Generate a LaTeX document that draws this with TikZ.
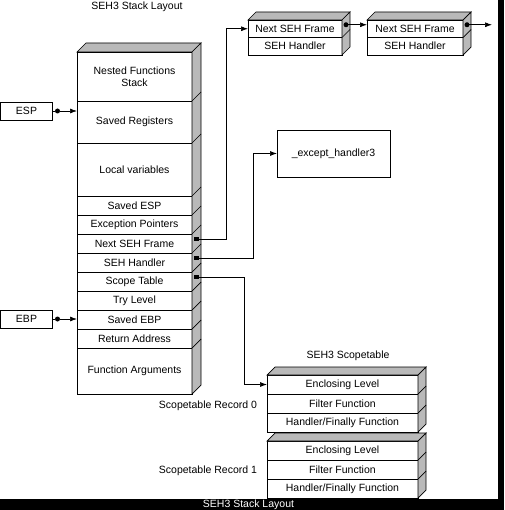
\documentclass[tikz,border=0pt]{standalone}
\usepackage{fontspec}
\setmainfont{Liberation Sans}
\usetikzlibrary{arrows.meta,positioning,calc}

\begin{document}
\begin{tikzpicture}[
    x=1pt, y=-1pt,
    font=\fontsize{10.5}{12}\selectfont,
    row/.style={draw, fill=white, line width=0.7pt, inner sep=0pt, outer sep=0pt, align=center},
    stackrow/.style={row, minimum width=115pt, minimum height=19pt},
    framerow/.style={row, minimum height=17.5pt},
    tablerow/.style={row, minimum width=151pt, minimum height=19pt},
    reg/.style={row, minimum width=52pt, minimum height=18pt},
    side/.style={draw, line width=0.7pt, fill=gray!55},
    sqmark/.style={fill=black, minimum size=4.5pt, inner sep=0pt},
    dotmark/.style={circle, fill=black, minimum size=5pt, inner sep=0pt},
    link/.style={-{Latex[length=7pt,width=5pt]}, line width=0.7pt}
]
\fill[white] (0,0) rectangle (504,510);
\useasboundingbox (0,0) rectangle (504,510);

\node (stacktitle) at (137,7) {SEH3 Stack Layout};
\node[stackrow, minimum height=49pt, anchor=north west] (nested) at (77,52) {Nested Functions\\Stack};
\node[stackrow, minimum height=42pt, below=0pt of nested] (regs) {Saved Registers};
\node[stackrow, minimum height=53pt, below=0pt of regs] (locals) {Local variables};
\node[stackrow, below=0pt of locals] (sesp) {Saved ESP};
\node[stackrow, below=0pt of sesp] (exptr) {Exception Pointers};
\node[stackrow, below=0pt of exptr] (nseh) {Next SEH Frame};
\node[stackrow, below=0pt of nseh] (sehh) {SEH Handler};
\node[stackrow, below=0pt of sehh] (scope) {Scope Table};
\node[stackrow, below=0pt of scope] (try) {Try Level};
\node[stackrow, below=0pt of try] (sebp) {Saved EBP};
\node[stackrow, below=0pt of sebp] (ret) {Return Address};
\node[stackrow, minimum height=46pt, below=0pt of ret] (args) {Function Arguments};

\node[framerow, minimum width=94pt, anchor=north west] (f1next) at (248,20) {Next SEH Frame};
\node[framerow, minimum width=94pt, below=0pt of f1next] (f1hand) {SEH Handler};
\node[framerow, minimum width=96pt, anchor=north west] (f2next) at (367,20) {Next SEH Frame};
\node[framerow, minimum width=96pt, below=0pt of f2next] (f2hand) {SEH Handler};

\node[row, minimum width=113pt, minimum height=47pt] (handler) at (333.5,153.5) {\_except\_handler3};

\node (tabletitle) at (348,356) {SEH3 Scopetable};
\node[tablerow, anchor=north west] (r0enc) at (267,375) {Enclosing Level};
\node[tablerow, below=0pt of r0enc] (r0filt) {Filter Function};
\node[tablerow, below=0pt of r0filt] (r0fin) {Handler/Finally Function};
\node[tablerow, anchor=north west] (r1enc) at (267,441) {Enclosing Level};
\node[tablerow, below=0pt of r1enc] (r1filt) {Filter Function};
\node[tablerow, below=0pt of r1filt] (r1fin) {Handler/Finally Function};
\node (rec0) at (208,406) {Scopetable Record 0};
\node (rec1) at (208,471) {Scopetable Record 1};

\foreach \t/\b/\d in {nested/args/9, f1next/f1hand/8, f2next/f2hand/8, r0enc/r0fin/8, r1enc/r1fin/8} {
  \filldraw[side] (\t.north west) -- ++(\d,-\d) -- ($(\t.north east)+(\d,-\d)$) -- (\t.north east) -- cycle;
  \filldraw[side] (\t.north east) -- ++(\d,-\d) -- ($(\b.south east)+(\d,-\d)$) -- (\b.south east) -- cycle;
}
\foreach \r/\d in {nested/9, regs/9, locals/9, sesp/9, exptr/9, nseh/9, sehh/9, scope/9, try/9, sebp/9, ret/9,
                   f1next/8, f2next/8, r0enc/8, r0filt/8, r1enc/8, r1filt/8}
  \draw[line width=0.7pt] (\r.south east) -- ++(\d,-\d);

\node[reg] (esp) at (26.5,111) {ESP};
\node[reg] (ebp) at (26.5,319) {EBP};
\node[dotmark] (espdot) at ($(esp.east)+(5,0)$) {};
\node[dotmark] (ebpdot) at ($(ebp.east)+(5,0)$) {};
\draw[line width=0.7pt] (esp.east) -- (espdot);
\draw[line width=0.7pt] (ebp.east) -- (ebpdot);
\draw[link] (espdot) -- (espdot -| regs.west);
\draw[link] (ebpdot) -- (ebpdot -| sebp.west);

\node[sqmark] (nsehsq) at ($(nseh.east)+(4.5,-4.5)$) {};
\node[sqmark] (sehhsq) at ($(sehh.east)+(4.5,-4.5)$) {};
\node[sqmark] (scopesq) at ($(scope.east)+(4.5,-4.5)$) {};
\draw[link] (nsehsq.center) -- ++(30,0) |- (f1next.west);
\draw[link] (sehhsq.center) -- ++(57,0) |- (handler.west);
\draw[link] (scopesq.center) -- ++(48,0) |- (r0enc.west);

\node[dotmark] (f1dot) at ($(f1next.east)+(4,-4)$) {};
\node[dotmark] (f2dot) at ($(f2next.east)+(4,-4)$) {};
\coordinate (f2end) at ($(f2dot)+(25,0)$);
\draw[link] (f1dot.center) -- (f1dot -| f2next.west);
\draw[link] (f2dot.center) -- (f2end);

\fill[black] (498,0) rectangle (504,510);
\fill[black] (0,499) rectangle (504,510);
\node[text=white] (caption) at (248.5,504.5) {SEH3 Stack Layout};
\end{tikzpicture}
\end{document}
